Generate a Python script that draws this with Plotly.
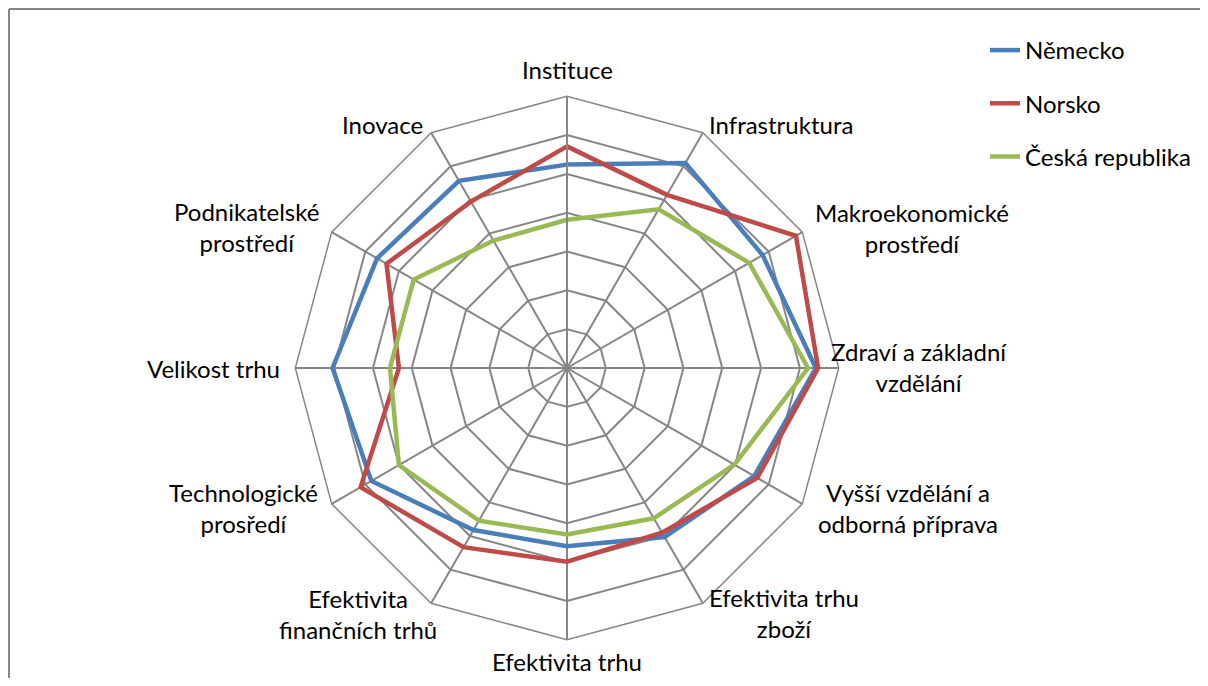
import plotly.graph_objects as go

# ---- data ----
categories = [
    "Instituce", "Infrastruktura", "Makroekonomické prostředí",
    "Zdraví a základní vzdělání", "Vyšší vzdělání a odborná příprava",
    "Efektivita trhu zboží", "Efektivita trhu práce",
    "Efektivita finančních trhů", "Technologické prosředí",
    "Velikost trhu", "Podnikatelské prostředí", "Inovace",
]
label_texts = [
    "Instituce", "Infrastruktura", "Makroekonomické<br>prostředí",
    "Zdraví a základní<br>vzdělání", "Vyšší vzdělání a<br>odborná příprava",
    "Efektivita trhu<br>zboží", "Efektivita trhu",
    "Efektivita<br>finančních trhů", "Technologické<br>prosředí",
    "Velikost trhu", "Podnikatelské<br>prostředí", "Inovace",
]
nemecko = [5.24, 6.10, 5.82, 6.41, 5.57, 5.03, 4.59, 4.82, 5.82, 6.04, 5.65, 5.57]
norsko = [5.71, 5.15, 6.81, 6.47, 5.66, 4.90, 4.99, 5.33, 6.14, 4.33, 5.37, 4.95]
cesko = [3.82, 4.72, 5.42, 6.21, 4.98, 4.47, 4.29, 4.54, 5.00, 4.56, 4.56, 3.79]
series_names = ["Německo", "Norsko", "Česká republika"]
series_values = [nemecko, norsko, cesko]
series_colors = ["#4A7EBB", "#BE4B48", "#98B954"]

# ---- layout constants (page pixels; the page body adds an 8px margin) ----
PAGE_W, PAGE_H, OFF = 1208, 686, 8
W, H = PAGE_W - 2 * OFF, PAGE_H - 2 * OFF
CX, CY, R = 567 - OFF, 368 - OFF, 271.7
FONT = "Lato"
FS = 24
GRID = "#868686"


def px(x):
    return (x - OFF) / W


def py(y):
    return 1 - (y - OFF) / H


fig = go.Figure()
for name, vals, col in zip(series_names, series_values, series_colors):
    fig.add_trace(go.Scatterpolar(
        r=vals + vals[:1], theta=categories + categories[:1],
        mode="lines", name=name, legendgroup=name,
        line=dict(color=col, width=4.5),
    ))

# label placement (page-pixel positions of label blocks)
label_pos = [
    (567, 69, "center", "middle"),
    (707, 124, "left", "middle"),
    (912, 228, "center", "middle"),
    (919, 367, "center", "middle"),
    (908, 508, "center", "middle"),
    (784, 613, "center", "middle"),
    (567, 661, "center", "middle"),
    (358, 614, "center", "middle"),
    (243, 508, "center", "middle"),
    (282, 368, "right", "middle"),
    (246, 227, "center", "middle"),
    (425, 124, "right", "middle"),
]
annotations = []
for txt, (x, y, xa, ya) in zip(label_texts, label_pos):
    annotations.append(dict(
        text=txt, x=px(x), y=py(y), xref="paper", yref="paper",
        xanchor=xa, yanchor=ya, align="center", showarrow=False,
        font=dict(family=FONT, size=FS, color="#000000"),
    ))

frame = dict(color=GRID, width=2)
fig.update_layout(
    width=W, height=H,
    margin=dict(l=0, r=0, t=0, b=0),
    paper_bgcolor="white", plot_bgcolor="white",
    font=dict(family=FONT, size=FS, color="#000000"),
    polar=dict(
        domain=dict(x=[(CX - R) / W, (CX + R) / W],
                    y=[(H - CY - R) / H, (H - CY + R) / H]),
        gridshape="linear",
        bgcolor="white",
        radialaxis=dict(range=[0, 7], dtick=1, showticklabels=False, ticks="",
                        showline=True, linecolor=GRID, linewidth=2,
                        gridcolor=GRID, gridwidth=1.5, angle=90),
        angularaxis=dict(direction="clockwise", rotation=90,
                         showticklabels=False, ticks="",
                         showline=True, linecolor=GRID, linewidth=1.5,
                         gridcolor=GRID, gridwidth=1.5),
    ),
    showlegend=True,
    legend=dict(x=px(985), y=py(28), xanchor="left", yanchor="top",
                tracegroupgap=19, bgcolor="rgba(0,0,0,0)",
                font=dict(family=FONT, size=FS, color="#000000")),
    annotations=annotations,
    shapes=[
        dict(type="line", xref="paper", yref="paper",
             x0=1 / W, y0=1 - 1 / H, x1=1 / W, y1=0, line=frame),
        dict(type="line", xref="paper", yref="paper",
             x0=1 / W, y0=1 - 1 / H, x1=1.05, y1=1 - 1 / H, line=frame),
    ],
)

fig.write_html("out.html", config={"displayModeBar": False})
